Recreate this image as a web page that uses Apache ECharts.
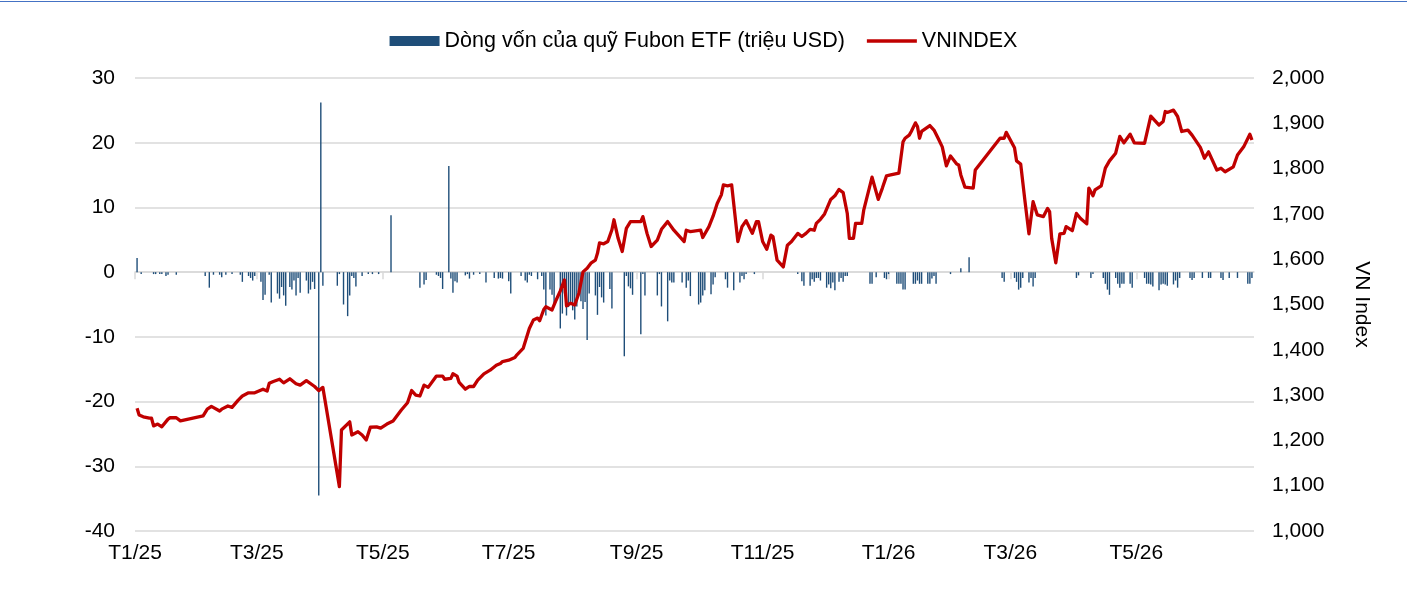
<!DOCTYPE html>
<html>
<head>
<meta charset="utf-8">
<script src="https://cdn.jsdelivr.net/npm/echarts@6/dist/echarts.min.js"></script>
<style>
  html, body { margin: 0; padding: 0; background: #ffffff; }
  #chart { width: 1407px; height: 601px; }
</style>
</head>
<body>
<div id="chart"></div>
<script>
// x positions are days since 2025-01-01
const xTickDays   = [0, 59, 120, 181, 243, 304, 365, 424, 485];
const xTickLabels = ['T1/25', 'T3/25', 'T5/25', 'T7/25', 'T9/25', 'T11/25', 'T1/26', 'T3/26', 'T5/26'];

const seriesNames = ['Dòng vốn của quỹ Fubon ETF (triệu USD)', 'VNINDEX'];

// Fubon ETF flows (million USD)
const flowDay = [
  1,3,9,10,12,13,15,16,20,34,
  36,38,41,42,44,47,51,52,55,56,
  57,58,61,62,63,65,66,69,70,71,
  72,73,75,76,77,78,79,80,83,84,
  85,86,87,89,90,91,98,99,101,103,
  104,105,106,107,110,113,115,118,124,138,
  140,141,146,147,148,149,152,153,154,155,
  156,160,161,162,164,167,170,174,176,177,
  178,181,182,187,189,190,191,192,195,197,
  198,199,201,202,203,206,207,208,209,210,
  211,212,213,214,215,216,217,218,219,220,
  223,224,225,226,227,230,231,237,238,239,
  240,241,245,246,247,253,254,255,258,259,
  260,261,265,267,268,269,273,274,275,276,
  279,280,281,286,287,290,293,294,295,296,
  300,321,323,324,327,328,329,330,331,332,
  335,336,337,338,339,341,342,343,344,345,
  356,357,359,363,364,365,369,370,371,372,
  373,377,378,379,380,381,384,385,386,387,
  388,395,400,404,420,421,426,427,428,429,
  430,433,434,435,436,456,457,463,464,469,
  470,471,472,475,476,477,478,479,482,483,
  489,490,491,492,493,496,497,498,499,500,
  503,504,505,506,511,512,513,517,520,521,
  526,527,530,534,539,540,541
];
const flowValue = [
  2.2,-0.3,-0.3,-0.3,-0.3,-0.3,-0.6,-0.4,-0.4,-0.6,
  -2.4,-0.4,-0.4,-0.8,-0.4,-0.3,-0.4,-1.5,-0.6,-0.9,
  -1.3,-0.6,-1.5,-4.3,-3.5,-0.4,-4.7,-3.3,-4.1,-2.3,
  -3.6,-5.2,-2.3,-2.7,-1.3,-3.6,-0.9,-3.2,-1.3,-3.3,
  -2.7,-1.5,-2.6,-34.5,26.2,-2.1,-2.1,-0.3,-5.0,-6.8,
  -3.6,-0.6,-0.9,-2.2,-0.6,-0.3,-0.3,-0.3,8.8,-2.4,
  -1.9,-1.2,-0.4,-0.6,-0.9,-2.6,16.4,-1.0,-3.2,-1.4,
  -1.6,-0.5,-0.3,-1.0,-0.4,-0.3,-1.6,-0.9,-1.0,-0.9,
  -1.0,-1.4,-3.3,-0.6,-1.3,-1.6,-0.4,-0.6,-1.1,-0.6,
  -2.7,-6.7,-2.7,-3.5,-5.2,-8.7,-6.4,-3.3,-6.7,-5.4,
  -4.6,-5.9,-7.3,-5.3,-2.7,-4.5,-5.7,-4.6,-10.5,-3.3,
  -3.6,-6.6,-2.3,-3.9,-4.7,-2.6,-5.6,-13.0,-0.6,-2.2,
  -2.5,-3.5,-9.6,-0.3,-3.6,-3.6,-0.3,-5.3,-7.6,-1.3,
  -1.6,-1.6,-1.6,-2.4,-1.3,-3.7,-5.0,-4.7,-3.6,-2.8,
  -3.4,-1.9,-0.8,-1.1,-2.4,-2.8,-1.6,-0.6,-1.1,-0.3,
  -0.3,-0.3,-1.4,-2.1,-2.1,-1.1,-1.5,-0.9,-0.9,-1.3,
  -2.4,-1.9,-2.5,-1.6,-2.8,-1.5,-0.9,-1.5,-0.6,-0.6,
  -1.8,-1.8,-0.8,-0.9,-1.1,-0.3,-1.8,-1.8,-1.8,-2.7,
  -2.7,-1.8,-1.8,-1.3,-1.8,-1.8,-1.8,-1.8,-1.0,-0.6,
  -1.8,-0.3,0.6,2.3,-0.9,-1.5,-0.9,-1.5,-2.7,-2.4,
  -0.9,-1.6,-0.9,-2.2,-0.9,-0.9,-0.5,-0.9,-0.3,-0.9,
  -1.8,-2.7,-3.5,-0.9,-1.8,-2.4,-1.8,-1.8,-1.8,-2.4,
  -0.9,-1.8,-1.8,-1.9,-2.2,-2.8,-1.9,-1.8,-1.9,-2.1,
  -1.9,-1.3,-2.4,-0.9,-0.9,-1.2,-0.9,-0.9,-0.9,-0.9,
  -0.9,-1.2,-0.9,-0.9,-1.8,-1.8,-0.9
];

// VNINDEX (points)
const vniDay = [
  1,2,4,7,8,9,11,13,16,17,
  20,22,33,35,37,41,42,45,47,50,
  52,55,58,60,62,64,65,67,70,72,
  75,78,80,83,87,89,91,99,100,104,
  105,108,110,112,114,117,119,122,125,129,
  132,134,136,138,140,142,146,149,150,153,
  154,156,157,160,162,164,166,169,172,175,
  177,178,181,184,185,188,191,193,195,196,
  198,199,202,204,206,208,209,211,213,215,
  217,219,221,223,224,225,227,229,231,232,
  234,236,238,240,245,246,248,250,253,255,
  258,261,266,267,269,274,275,278,280,282,
  284,285,287,289,292,294,296,299,301,302,
  304,306,308,309,311,314,316,318,321,323,
  325,327,329,330,332,334,337,339,341,343,
  345,346,348,349,352,353,357,360,362,364,
  366,370,372,373,375,376,378,379,380,381,
  385,387,389,391,393,395,398,399,400,402,
  406,407,419,421,422,426,427,429,431,433,
  435,437,440,442,443,444,446,448,450,451,
  454,456,458,461,462,464,465,468,470,472,
  475,477,479,482,484,489,492,496,498,499,
  500,503,505,507,510,512,516,518,520,524,
  526,528,532,534,537,540,541
];
const vniValue = [
  1271,1256,1252,1249,1249,1232,1236,1230,1247,1250,
  1250,1243,1254,1269,1275,1265,1269,1276,1273,1289,
  1298,1305,1305,1309,1313,1309,1326,1330,1335,1327,
  1336,1325,1322,1332,1319,1310,1317,1098,1223,1241,
  1212,1219,1212,1201,1229,1230,1227,1236,1243,1267,
  1283,1310,1300,1298,1322,1317,1342,1342,1335,1337,
  1347,1342,1328,1313,1319,1319,1333,1347,1355,1366,
  1370,1374,1377,1383,1389,1403,1447,1466,1470,1464,
  1489,1495,1488,1510,1530,1554,1497,1503,1499,1525,
  1572,1580,1592,1598,1613,1636,1634,1639,1665,1687,
  1646,1617,1668,1683,1683,1694,1657,1628,1642,1666,
  1683,1664,1639,1664,1661,1664,1648,1672,1695,1723,
  1742,1764,1762,1764,1639,1672,1685,1657,1683,1683,
  1639,1622,1653,1650,1598,1583,1631,1639,1657,1650,
  1657,1666,1664,1679,1688,1700,1732,1740,1754,1747,
  1701,1646,1646,1679,1679,1709,1781,1732,1757,1784,
  1786,1790,1859,1867,1874,1882,1901,1893,1867,1882,
  1895,1885,1867,1848,1806,1828,1810,1808,1786,1759,
  1757,1797,1867,1867,1880,1846,1817,1810,1731,1656,
  1727,1698,1694,1712,1705,1646,1592,1656,1657,1672,
  1663,1701,1690,1678,1757,1740,1753,1762,1801,1817,
  1834,1871,1857,1876,1857,1856,1916,1896,1904,1926,
  1924,1929,1915,1882,1885,1874,1847,1823,1837,1797,
  1801,1793,1804,1830,1848,1876,1863
];

const FONT = "'Liberation Sans', Arial, sans-serif";
const FS = 21;
const TXT = '#000000';
const GRID = '#d9d9d9';
const X_MIN = 0, X_MAX = 542;

const chart = echarts.init(document.getElementById('chart'), null, { renderer: 'canvas' });

const tickLabelOf = v => {
  const i = xTickDays.indexOf(Math.round(v));
  return i >= 0 ? xTickLabels[i] : '';
};

chart.setOption({
  animation: false,
  backgroundColor: '#ffffff',
  textStyle: { fontFamily: FONT },
  graphic: [{
    type: 'rect', left: 0, top: 1, silent: true,
    shape: { width: 1407, height: 1 },
    style: { fill: '#4472c4' }
  }],
  legend: {
    top: 25, left: 'center',
    itemWidth: 50, itemHeight: 10, itemGap: 22,
    symbolKeepAspect: true,
    textStyle: { fontFamily: FONT, fontSize: 21.5, color: TXT },
    data: [
      { name: seriesNames[0], icon: 'rect' },
      { name: seriesNames[1], icon: 'path://M0,0 L50,0 L50,3.5 L0,3.5 Z' }
    ]
  },
  grid: { left: 135, right: 153, top: 78, bottom: 70, containLabel: false },
  xAxis: [{
    type: 'value', min: X_MIN, max: X_MAX,
    axisLine: { show: false, onZero: false },
    axisTick: { show: false },
    splitLine: { show: false },
    axisLabel: {
      customValues: xTickDays,
      formatter: tickLabelOf,
      fontFamily: FONT, fontSize: FS, color: TXT, margin: 12
    }
  }, {
    type: 'value', min: X_MIN, max: X_MAX, position: 'bottom',
    axisLine: { show: true, onZero: true, onZeroAxisIndex: 0, lineStyle: { color: GRID, width: 1.5 } },
    axisTick: { show: true, customValues: xTickDays, length: 7, lineStyle: { color: GRID, width: 1.5 } },
    axisLabel: { show: false },
    splitLine: { show: false }
  }],
  yAxis: [{
    type: 'value', min: -40, max: 30, interval: 10, position: 'left',
    axisLine: { show: false }, axisTick: { show: false },
    splitLine: { show: true, lineStyle: { color: GRID, width: 1.5 } },
    axisLabel: { fontFamily: FONT, fontSize: FS, color: TXT, margin: 20 }
  }, {
    type: 'value', min: 1000, max: 2000, interval: 100, position: 'right',
    name: 'VN Index', nameLocation: 'middle', nameRotate: -90, nameGap: 97,
    nameTextStyle: { fontFamily: FONT, fontSize: FS, color: TXT },
    axisLine: { show: false }, axisTick: { show: false },
    splitLine: { show: false },
    axisLabel: {
      fontFamily: FONT, fontSize: FS, color: TXT, margin: 18,
      formatter: v => v.toLocaleString('en-US')
    }
  }],
  series: [{
    name: seriesNames[0], type: 'bar',
    xAxisIndex: 0, yAxisIndex: 0,
    barWidth: 1.4,
    itemStyle: { color: '#1f4e79' },
    data: flowDay.map((d, i) => [d, flowValue[i]]),
    z: 2
  }, {
    name: seriesNames[1], type: 'line',
    xAxisIndex: 0, yAxisIndex: 1,
    symbol: 'none', showSymbol: false,
    lineStyle: { color: '#c00000', width: 3.3, join: 'round' },
    itemStyle: { color: '#c00000' },
    data: vniDay.map((d, i) => [d, vniValue[i]]),
    z: 3
  }]
});
</script>
</body>
</html>
